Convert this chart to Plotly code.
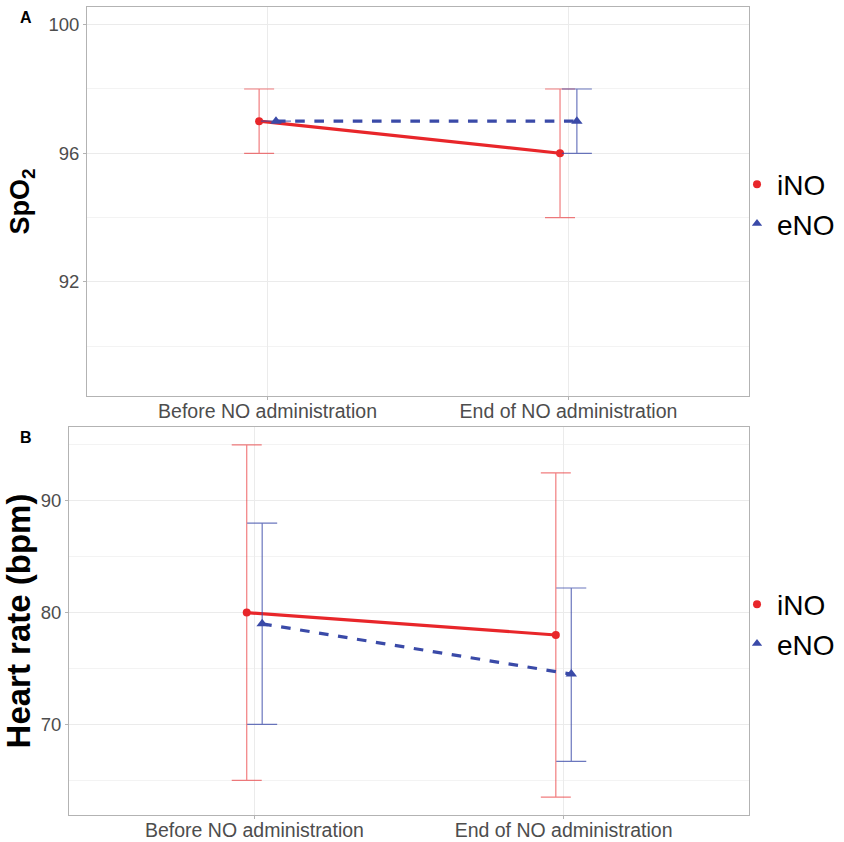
import plotly.graph_objects as go

categories = ["Before NO administration", "End of NO administration"]
groups = ["iNO", "eNO"]

spo2_ino_mean = [97, 96]
spo2_ino_low = [96, 94]
spo2_ino_high = [98, 98]
spo2_eno_mean = [97, 97]
spo2_eno_low = [97, 96]
spo2_eno_high = [97, 98]

hr_ino_mean = [80, 78]
hr_ino_low = [65, 63.5]
hr_ino_high = [95, 92.5]
hr_eno_mean = [79, 74.5]
hr_eno_low = [70, 66.7]
hr_eno_high = [88, 82.2]

RED = "#E8262A"
BLUE = "#3A4AA8"
RED_EB = "rgba(232,38,42,0.6)"
BLUE_EB = "rgba(58,74,168,0.75)"
GRID = "#ebebeb"
BORDER = "#b3b3b3"
FONT = "Liberation Sans, Arial, sans-serif"

pos = [1, 2]
DODGE_A = 0.028
DODGE_B = 0.025


def make_trace(mean, low, high, name, color, ebcolor, dash, symbol, msize, dodge, xa, ya):
    xs = [p + dodge for p in pos]
    return go.Scatter(
        x=xs, y=mean, name=name, mode="lines+markers", showlegend=False,
        line=dict(color=color, width=3.2, dash=dash),
        marker=dict(color=color, symbol=symbol, size=msize),
        error_y=dict(type="data", symmetric=False,
                     array=[h - m for h, m in zip(high, mean)],
                     arrayminus=[m - l for m, l in zip(mean, low)],
                     color=ebcolor, thickness=1.2, width=15),
        xaxis=xa, yaxis=ya,
    )


def legend_entry(name, color, symbol, size, xa, ya, legend):
    return go.Scatter(x=[None], y=[None], name=name, mode="markers",
                      marker=dict(color=color, symbol=symbol, size=size),
                      xaxis=xa, yaxis=ya, legend=legend, showlegend=True)


fig = go.Figure()
fig.add_trace(make_trace(spo2_ino_mean, spo2_ino_low, spo2_ino_high, groups[0], RED, RED_EB,
                         "solid", "circle", 8, -DODGE_A, "x", "y"))
fig.add_trace(make_trace(spo2_eno_mean, spo2_eno_low, spo2_eno_high, groups[1], BLUE, BLUE_EB,
                         "dash", "triangle-up", 10, DODGE_A, "x", "y"))
fig.add_trace(make_trace(hr_ino_mean, hr_ino_low, hr_ino_high, groups[0], RED, RED_EB,
                         "solid", "circle", 8, -DODGE_B, "x2", "y2"))
fig.add_trace(make_trace(hr_eno_mean, hr_eno_low, hr_eno_high, groups[1], BLUE, BLUE_EB,
                         "dash", "triangle-up", 10, DODGE_B, "x2", "y2"))
fig.add_trace(legend_entry(groups[0], RED, "circle", 8, "x", "y", "legend"))
fig.add_trace(legend_entry(groups[1], BLUE, "triangle-up", 9, "x", "y", "legend"))
fig.add_trace(legend_entry(groups[0], RED, "circle", 8, "x2", "y2", "legend2"))
fig.add_trace(legend_entry(groups[1], BLUE, "triangle-up", 9, "x2", "y2", "legend2"))

W, H = 844, 842

xcommon = dict(range=[0.4, 2.6], tickvals=pos, ticktext=categories, showgrid=True,
               gridcolor=GRID, gridwidth=1, showline=True, mirror=True, linecolor=BORDER,
               linewidth=1, ticks="outside", ticklen=3, tickcolor=BORDER, zeroline=False,
               ticklabelstandoff=-5,
               tickfont=dict(family=FONT, size=19.5, color="#4d4d4d"))
ycommon = dict(showgrid=True, gridcolor=GRID, gridwidth=1, showline=True, mirror=True,
               linecolor=BORDER, linewidth=1, ticks="outside", ticklen=3, tickcolor=BORDER,
               zeroline=False, tickfont=dict(family=FONT, size=18.5, color="#4d4d4d"))

fig.update_layout(
    width=W, height=H, margin=dict(l=0, r=0, t=0, b=0, autoexpand=False),
    paper_bgcolor="white", plot_bgcolor="white",
    font=dict(family=FONT),
    xaxis=dict(domain=[87 / W, 749 / W], anchor="y", **xcommon),
    xaxis2=dict(domain=[69 / W, 749 / W], anchor="y2", **xcommon),
    yaxis=dict(domain=[1 - 396 / H, 1 - 7 / H], anchor="x", range=[88.45, 100.55],
               tick0=92, dtick=4,
               minor=dict(dtick=2, tick0=92, showgrid=True, gridcolor="#f3f3f3", gridwidth=0.6, ticks=""),
               title=dict(text="<b>SpO<sub>2</sub></b>", font=dict(family=FONT, size=27, color="black"),
                          standoff=10),
               **ycommon),
    yaxis2=dict(domain=[1 - 815 / H, 1 - 427 / H], anchor="x2", range=[61.9, 96.6],
                tick0=70, dtick=10,
                minor=dict(dtick=5, tick0=70, showgrid=True, gridcolor="#f3f3f3", gridwidth=0.6, ticks=""),
                title=dict(text="<b>Heart rate (bpm)</b>", font=dict(family=FONT, size=33, color="black"),
                           standoff=6),
                **ycommon),
    legend=dict(x=737 / W, y=1 - 204 / H, xanchor="left", yanchor="middle",
                font=dict(family=FONT, size=28, color="black"), itemwidth=30,
                tracegroupgap=0, bgcolor="rgba(0,0,0,0)"),
    legend2=dict(x=737 / W, y=1 - 624 / H, xanchor="left", yanchor="middle",
                 font=dict(family=FONT, size=28, color="black"), itemwidth=30,
                 tracegroupgap=0, bgcolor="rgba(0,0,0,0)"),
    annotations=[
        dict(text="<b>A</b>", x=18 / W, y=1 - 18 / H, xref="paper", yref="paper",
             showarrow=False, xanchor="left", yanchor="middle",
             font=dict(family=FONT, size=16, color="black")),
        dict(text="<b>B</b>", x=18 / W, y=1 - 438 / H, xref="paper", yref="paper",
             showarrow=False, xanchor="left", yanchor="middle",
             font=dict(family=FONT, size=16, color="black")),
    ],
)

fig.write_html("out.html")
